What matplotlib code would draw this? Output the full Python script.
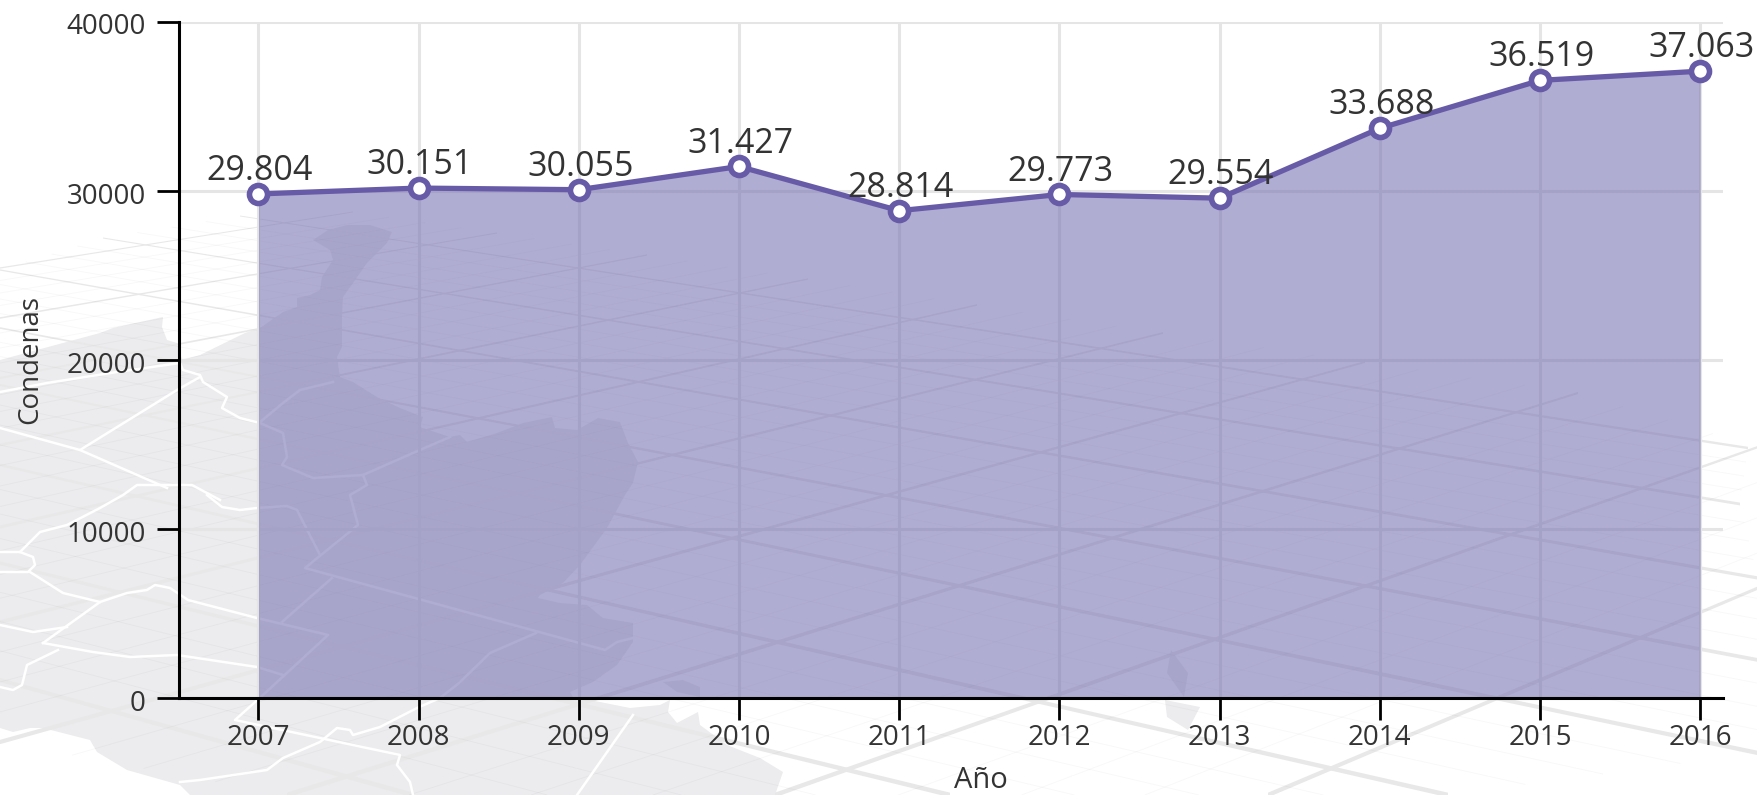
"""Condenas por año, area + line over a faded map background."""

import matplotlib
matplotlib.use("Agg")
import matplotlib.pyplot as plt
from matplotlib.patches import Polygon
from matplotlib.transforms import ScaledTranslation

plt.rcParams["font.family"] = ["Open Sans", "DejaVu Sans"]

W, H = 1758, 795
LINE = "#675ba7"
AREA = "#7872b2"
TEXT = "#333333"
GRID = "#e5e5e5"
LAND = "#ececee"
STREET = "#e8e8e9"

years = [2007, 2008, 2009, 2010, 2011, 2012, 2013, 2014, 2015, 2016]
condenas = [29804, 30151, 30055, 31427, 28814, 29773, 29554, 33688, 36519, 37063]
labels = ["29.804", "30.151", "30.055", "31.427", "28.814",
          "29.773", "29.554", "33.688", "36.519", "37.063"]
y_ticks = [0, 10000, 20000, 30000, 40000]

# background decoration, all in figure pixels (y down)
land_main = [
    (0, 360), (100, 333), (113, 328), (163, 317), (162, 327), (167, 340), (177, 343), (182, 360),
    (200, 355), (245, 333), (260, 328), (283, 312), (297, 307), (297, 298), (310, 295), (320, 290),
    (322, 277), (333, 260), (330, 250), (313, 240), (328, 230), (347, 225), (370, 225), (392, 232),
    (387, 243), (367, 263), (353, 283), (343, 297), (342, 317), (342, 347), (337, 357), (340, 377),
    (353, 382), (377, 397), (400, 408), (423, 417), (420, 427), (450, 437), (460, 435), (467, 442),
    (497, 433), (523, 423), (552, 417), (555, 428), (577, 430), (598, 418), (620, 422), (628, 443),
    (638, 462), (633, 483), (625, 495), (607, 528), (580, 565), (563, 583), (540, 595), (538, 598),
    (560, 603), (587, 605), (603, 618), (633, 623), (633, 642), (617, 665), (593, 682), (570, 692),
    (573, 697), (600, 702), (630, 708), (660, 705), (670, 700), (668, 712), (677, 723), (698, 712),
    (700, 725), (727, 745), (760, 758), (783, 772), (775, 795), (190, 795), (180, 785), (127, 770),
    (97, 752), (90, 740), (43, 728), (30, 728), (13, 732), (0, 728),
]
land_islands = [
    [(663, 682), (683, 680), (700, 687), (700, 697), (677, 692)],
    [(1171, 650), (1188, 673), (1184, 697), (1167, 673)],
    [(1165, 700), (1200, 707), (1188, 730), (1167, 717)],
]
borders = [
    [(0, 552), (20, 552), (33, 557), (35, 565), (28, 572), (0, 572)],
    [(20, 552), (40, 532), (67, 525), (100, 508), (123, 495), (137, 485), (192, 485), (220, 500)],
    [(0, 428), (80, 450), (177, 390), (200, 377)],
    [(80, 450), (167, 488)],
    [(0, 392), (47, 383), (117, 372), (180, 363), (183, 370), (200, 375), (203, 382), (227, 397),
     (222, 408), (240, 418), (260, 423), (283, 433), (287, 457), (282, 465), (313, 478), (363, 475),
     (413, 453), (450, 437)],
    [(260, 422), (283, 403), (300, 390), (333, 382)],
    [(363, 475), (367, 485), (350, 495), (358, 525), (305, 568), (605, 650), (617, 642), (633, 638)],
    [(207, 495), (222, 507), (240, 510), (257, 508), (287, 506), (297, 510), (320, 555)],
    [(332, 578), (282, 622)],
    [(43, 643), (100, 602), (127, 593), (147, 590), (155, 585), (170, 588), (188, 600), (257, 618),
     (328, 635), (263, 695), (235, 720), (400, 755), (397, 765), (410, 782), (413, 795)],
    [(43, 643), (93, 652), (130, 657), (177, 655), (257, 667), (283, 675)],
    [(0, 625), (33, 632), (67, 627)],
    [(58, 650), (27, 665), (22, 685), (13, 690), (0, 687)],
    [(30, 572), (63, 593), (100, 602)],
    [(180, 782), (200, 780), (267, 770), (283, 758), (320, 742), (337, 728), (350, 730), (353, 735),
     (380, 727), (417, 708), (440, 698), (459, 683), (490, 653), (536, 633)],
    [(633, 715), (577, 795)],
]
# perspective street lines: x0, y0, x1, y1
streets_down = [
    (240, 216, 1748, 448), (103, 238, 1740, 504), (0, 270, 1758, 578),
    (0, 328, 1758, 660), (0, 385, 1758, 753), (0, 465, 1448, 795),
    (0, 563, 950, 795), (0, 680, 413, 795),
]
streets_up = [
    (0, 268, 353, 212), (0, 318, 497, 233), (0, 378, 647, 255), (0, 445, 808, 279),
    (0, 527, 977, 305), (0, 622, 1163, 333), (0, 742, 1365, 362),
    (287, 795, 1578, 393), (775, 795, 1758, 447), (1268, 795, 1758, 588),
]


def street_width(y):
    # the streets get wider towards the viewer
    return 0.8 + max(y - 200, 0) * 0.0065


def draw_background(fig):
    bg = fig.add_axes([0, 0, 1, 1], zorder=0)
    bg.set_xlim(0, W)
    bg.set_ylim(H, 0)
    bg.axis("off")
    bg.add_patch(Polygon(land_main, closed=True, color=LAND, lw=0))
    for isl in land_islands:
        bg.add_patch(Polygon(isl, closed=True, color=LAND, lw=0))
    # thin streets between the thick ones
    for fam in (streets_down, streets_up):
        for a, b in zip(fam[:-1], fam[1:]):
            for f in (0.25, 0.5, 0.75):
                xs = [a[0] + (b[0] - a[0]) * f, a[2] + (b[2] - a[2]) * f]
                ys = [a[1] + (b[1] - a[1]) * f, a[3] + (b[3] - a[3]) * f]
                bg.plot(xs, ys, color="black", alpha=0.028, lw=0.7, solid_capstyle="butt")
    for x0, y0, x1, y1 in streets_down + streets_up:
        w0, w1 = street_width(y0) / 2, street_width(y1) / 2
        bg.add_patch(Polygon([(x0, y0 - w0), (x1, y1 - w1), (x1, y1 + w1), (x0, y0 + w0)],
                             closed=True, color=STREET, lw=0))
    for b in borders:
        bg.plot([p[0] for p in b], [p[1] for p in b], color="white", lw=1.8, solid_joinstyle="round")


def draw_chart(fig):
    left, right, top, bottom = 179, 1723, 21.5, 698
    ax = fig.add_axes([left / W, 1 - bottom / H, (right - left) / W, (bottom - top) / H], zorder=1)
    ax.patch.set_visible(False)
    ax.set_xlim(2006.504, 2016.142)
    ax.set_ylim(0, 40000)

    ax.grid(True, color=GRID, lw=2.2)
    ax.set_axisbelow(True)
    ax.fill_between(years, condenas, 0, color=AREA, alpha=0.58, lw=0, zorder=2)
    ax.plot(years, condenas, color=LINE, lw=3.8, marker="o", ms=13, mew=4,
            mfc="white", mec=LINE, zorder=4, clip_on=False)
    for x, y, s in zip(years, condenas, labels):
        ax.annotate(s, (x, y), xytext=(1, 16.5), textcoords="offset points", ha="center",
                    va="center", fontsize=24.5, color=TEXT, zorder=5)

    ax.set_xticks(years)
    ax.set_yticks(y_ticks)
    ax.tick_params(axis="both", length=15.8, width=2, color="black", labelsize=20, labelcolor=TEXT)
    ax.tick_params(axis="x", pad=3)
    ax.tick_params(axis="y", pad=8)
    shift = ScaledTranslation(0, -1.8 / 72, fig.dpi_scale_trans)
    for lbl in ax.get_yticklabels():
        lbl.set_transform(lbl.get_transform() + shift)
    for s in ("top", "right"):
        ax.spines[s].set_visible(False)
    for s in ("left", "bottom"):
        ax.spines[s].set_linewidth(2.2)
        ax.spines[s].set_zorder(6)

    fig.text(30 / W, 1 - 360 / H, "Condenas", rotation=90, ha="center", va="center",
             fontsize=20, color=TEXT)
    fig.text(981 / W, 1 - 781 / H, "Año", ha="center", va="center", fontsize=21, color=TEXT)
    return ax


fig = plt.figure(figsize=(W / 100, H / 100), dpi=100)
draw_background(fig)
draw_chart(fig)
fig.savefig("out.png", dpi=100)
plt.close(fig)
